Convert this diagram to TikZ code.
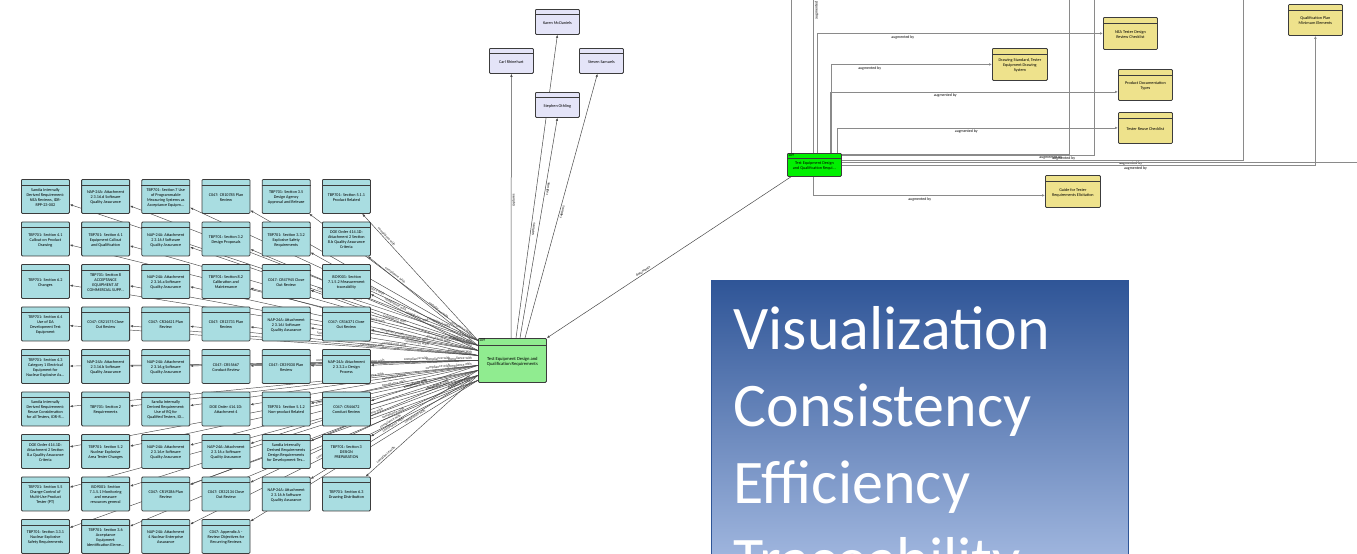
\documentclass[tikz,border=0pt]{standalone}
\usepackage{fontspec}
\setmainfont{Carlito}
\usetikzlibrary{arrows.meta,calc}
\pgfdeclarelayer{bg}
\pgfsetlayers{bg,main}
\definecolor{reqfill}{HTML}{A9DDE1}
\definecolor{boxline}{HTML}{3C3C3C}
\definecolor{lavfill}{HTML}{E4E4F8}
\definecolor{yelfill}{HTML}{EEE28C}
\definecolor{grnfill}{HTML}{90EC90}
\definecolor{brightgrn}{HTML}{00F000}
\definecolor{fanline}{HTML}{4A4A4A}
\definecolor{augline}{HTML}{8A8A8A}
\definecolor{bluetop}{HTML}{2F5597}
\definecolor{bluebot}{RGB}{183,202,237}
\tikzset{
 boxbase/.style={draw=boxline, line width=0.8pt, rounded corners=1pt, align=center, inner sep=0.5pt, anchor=north west, font=\fontsize{4.2}{5}\selectfont},
 req/.style={boxbase, fill=reqfill, minimum width=48pt, minimum height=34pt},
 person/.style={boxbase, fill=lavfill, minimum width=44pt, minimum height=25pt},
 ynode/.style={boxbase, fill=yelfill, minimum width=54pt, minimum height=32pt},
 gnode/.style={boxbase, fill=grnfill, minimum width=68pt, minimum height=44pt, font=\fontsize{4.6}{5.6}\selectfont},
 tbnode/.style={boxbase, fill=brightgrn, minimum width=54pt, minimum height=23pt},
 hdr/.style={draw=boxline, line width=0.5pt},
 htxt/.style={font=\fontsize{4}{4}\selectfont, inner sep=0.8pt, anchor=north west},
 fan/.style={draw=fanline, line width=0.45pt, -{Latex[length=3pt,width=2.4pt]}},
 clab/.style={font=\fontsize{3.6}{4}\selectfont, inner sep=0.6pt, text=black!85},
 aug/.style={draw=augline, line width=0.8pt},
 augarr/.style={aug, -{Latex[length=3pt,width=2.6pt]}},
 alab/.style={font=\fontsize{3.9}{4}\selectfont, inner sep=1.5pt},
 parr/.style={draw=fanline, line width=0.5pt, -{Latex[length=3pt,width=2.4pt]}},
 plab/.style={font=\fontsize{3.6}{4}\selectfont, inner sep=1pt},
 bluebox/.style={draw=bluetop, line width=1pt, top color=bluetop, bottom color=bluebot, anchor=north west, text=white, font=\fontsize{62}{77}\selectfont, text width=373pt, align=left, inner xsep=22pt, inner ysep=26pt}
}
\newcommand{\reqbox}[4]{%
  \node[req] (#1) at (#2,#3) {\mbox{}\\#4};
  \draw[hdr] ([yshift=-6pt]#1.north west) -- ([yshift=-6pt]#1.north east);
}
\begin{document}
\begin{tikzpicture}[x=1pt,y=-1pt]
\useasboundingbox (0,0) rectangle (1357,554);
\clip (0,0) rectangle (1357,554);
% requirement grid
\reqbox{b11}{21}{179}{Sandia Internally\\Derived Requirement:\\NEA Reviews, IDR-\\RPP-23-002}
\reqbox{b21}{81.2}{179}{NAP-24A: Attachment\\2 3.16.d Software\\Quality Assurance}
\reqbox{b31}{141.4}{179}{TBP701: Section 7 Use\\of Programmable\\Measuring Systems as\\Acceptance Equipm...}
\reqbox{b41}{201.6}{179}{C047: CR10785 Plan\\Review}
\reqbox{b51}{261.8}{179}{TBP701: Section 3.5\\Design Agency\\Approval and Release}
\reqbox{b61}{322}{179}{TBP701: Section 5.1.1\\Product Related}
\reqbox{b12}{21}{221.5}{TBP701: Section 4.1\\Callout on Product\\Drawing}
\reqbox{b22}{81.2}{221.5}{TBP701: Section 6.1\\Equipment Callout\\and Qualification}
\reqbox{b32}{141.4}{221.5}{NAP-24A: Attachment\\2 3.16.f Software\\Quality Assurance}
\reqbox{b42}{201.6}{221.5}{TBP701: Section 3.2\\Design Proposals}
\reqbox{b52}{261.8}{221.5}{TBP701: Section 3.3.2\\Explosive Safety\\Requirements}
\reqbox{b62}{322}{221.5}{DOE Order 414.1D:\\Attachment 2 Section\\8.b Quality Assurance\\Criteria}
\reqbox{b13}{21}{264}{TBP701: Section 6.2\\Changes}
\reqbox{b23}{81.2}{264}{TBP701: Section 8\\ACCEPTANCE\\EQUIPMENT AT\\COMMERCIAL SUPP...}
\reqbox{b33}{141.4}{264}{NAP-24A: Attachment\\2 3.16.a Software\\Quality Assurance}
\reqbox{b43}{201.6}{264}{TBP701: Section 8.2\\Calibration and\\Maintenance}
\reqbox{b53}{261.8}{264}{C047: CR47945 Close\\Out Review}
\reqbox{b63}{322}{264}{ISO9001: Section\\7.1.5.2 Measurement\\traceability}
\reqbox{b14}{21}{306.5}{TBP701: Section 6.4\\Use of DA\\Development Test\\Equipment}
\reqbox{b24}{81.2}{306.5}{C047: CR21575 Close\\Out Review}
\reqbox{b34}{141.4}{306.5}{C047: CR34621 Plan\\Review}
\reqbox{b44}{201.6}{306.5}{C047: CR13731 Plan\\Review}
\reqbox{b54}{261.8}{306.5}{NAP-24A: Attachment\\2 3.16.i Software\\Quality Assurance}
\reqbox{b64}{322}{306.5}{C047: CR16371 Close\\Out Review}
\reqbox{b15}{21}{349}{TBP701: Section 4.3\\Category 1 Electrical\\Equipment for\\Nuclear Explosive As...}
\reqbox{b25}{81.2}{349}{NAP-24A: Attachment\\2 3.16.b Software\\Quality Assurance}
\reqbox{b35}{141.4}{349}{NAP-24A: Attachment\\2 3.16.g Software\\Quality Assurance}
\reqbox{b45}{201.6}{349}{C047: CR55667\\Conduct Review}
\reqbox{b55}{261.8}{349}{C047: CR39030 Plan\\Review}
\reqbox{b65}{322}{349}{NAP-24A: Attachment\\2 3.3.2.c Design\\Process}
\reqbox{b16}{21}{391.5}{Sandia Internally\\Derived Requirement:\\Reuse Consideration\\for all Testers, IDR-R...}
\reqbox{b26}{81.2}{391.5}{TBP701: Section 2\\Requirements}
\reqbox{b36}{141.4}{391.5}{Sandia Internally\\Derived Requirement:\\Use of RQ for\\Qualified Testers, ID...}
\reqbox{b46}{201.6}{391.5}{DOE Order 414.1D:\\Attachment 4}
\reqbox{b56}{261.8}{391.5}{TBP701: Section 5.1.2\\Non-product Related}
\reqbox{b66}{322}{391.5}{C047: CR44672\\Conduct Review}
\reqbox{b17}{21}{434}{DOE Order 414.1D:\\Attachment 2 Section\\8.a Quality Assurance\\Criteria}
\reqbox{b27}{81.2}{434}{TBP701: Section 5.2\\Nuclear Explosive\\Area Tester Changes}
\reqbox{b37}{141.4}{434}{NAP-24A: Attachment\\2 3.16.e Software\\Quality Assurance}
\reqbox{b47}{201.6}{434}{NAP-24A: Attachment\\2 3.16.c Software\\Quality Assurance}
\reqbox{b57}{261.8}{434}{Sandia Internally\\Derived Requirements\\Design Requirements\\for Development Tes...}
\reqbox{b67}{322}{434}{TBP701: Section 3\\DESIGN\\PREPARATION}
\reqbox{b18}{21}{476.5}{TBP701: Section 5.5\\Change Control of\\Multi-Use Product\\Tester (PT)}
\reqbox{b28}{81.2}{476.5}{ISO9001: Section\\7.1.5.1 Monitoring\\and measure\\resources general}
\reqbox{b38}{141.4}{476.5}{C047: CR19286 Plan\\Review}
\reqbox{b48}{201.6}{476.5}{C047: CR32134 Close\\Out Review}
\reqbox{b58}{261.8}{476.5}{NAP-24A: Attachment\\2 3.16.h Software\\Quality Assurance}
\reqbox{b68}{322}{476.5}{TBP701: Section 6.3\\Drawing Distribution}
\reqbox{b19}{21}{519}{TBP701: Section 3.3.1\\Nuclear Explosive\\Safety Requirements}
\reqbox{b29}{81.2}{519}{TBP701: Section 3.6\\Acceptance\\Equipment\\Identification Eleme...}
\reqbox{b39}{141.4}{519}{NAP-24A: Attachment\\4 Nuclear Enterprise\\Assurance}
\reqbox{b49}{201.6}{519}{C047: Appendix A -\\Review Objectives for\\Recurring Reviews}
% central requirement node
\node[gnode] (g) at (478,338) {\mbox{}\\Test Equipment Design and\\Qualification Requirements};
\draw[hdr] ([yshift=-7pt]g.north west) -- ([yshift=-7pt]g.north east);
\node[htxt] (glbl) at (g.north west) {109};
% people
\node[person] (karen) at (535,9) {\mbox{}\\Karen McDaniels};
\node[person] (carl) at (489,48) {\mbox{}\\Carl Rhinehart};
\node[person] (steven) at (579,48) {\mbox{}\\Steven Samuels};
\node[person] (steph) at (535,92) {\mbox{}\\Stephen Othling};
\foreach \pn in {karen,carl,steven,steph}{
  \draw[hdr] ([yshift=-5pt]\pn.north west) -- ([yshift=-5pt]\pn.north east);
}
% bright green node
\node[tbnode] (tb) at (787,153) {\mbox{}\\Test Equipment Design\\and Qualification Requi...};
\draw[hdr] ([yshift=-5pt]tb.north west) -- ([yshift=-5pt]tb.north east);
\node[htxt] (tblbl) at (tb.north west) {109};
% yellow nodes
\node[ynode] (nea) at (1103,17) {\mbox{}\\NEA Tester Design\\Review Checklist};
\node[ynode, minimum width=55pt] (dr) at (992,48) {\mbox{}\\Drawing Standard, Tester\\Equipment Drawing\\System};
\node[ynode, minimum height=31pt] (pd) at (1118,69) {\mbox{}\\Product Documentation\\Types};
\node[ynode, minimum height=31pt] (tr) at (1118,112) {\mbox{}\\Tester Reuse Checklist};
\node[ynode, minimum width=55pt] (gd) at (1045,175) {\mbox{}\\Guide for Tester\\Requirements Elicitation};
\node[ynode, minimum height=31pt] (qp) at (1288,4) {\mbox{}\\Qualification Plan\\Minimum Elements};
\foreach \pn in {nea,dr,pd,tr,gd,qp}{
  \draw[hdr] ([yshift=-6pt]\pn.north west) -- ([yshift=-6pt]\pn.north east);
}
% big text panel
\node[bluebox] (vb) at (711,280) {Visualization\\Consistency\\Efficiency\\Traceability};
% off-picture ends
\coordinate (t1) at (791,-3);
\coordinate (t2) at (813,-3);
\coordinate (t3) at (1069,-3);
\coordinate (t4) at (1094,-3);
\coordinate (t5) at (1243,-3);
\coordinate (t6) at (1360,162);
\begin{pgfonlayer}{bg}
\fill[white] (0,0) rectangle (1357,554);
% fan of compliance edges
\foreach \cc/\rr in {1/1,2/1,3/1,4/1,5/1,6/1,1/2,2/2,3/2,4/2,5/2,6/2,1/3,2/3,3/3,4/3,5/3,6/3,1/4,2/4,3/4,4/4,5/4,6/4,1/5,2/5,3/5,4/5,5/5,6/5,1/6,2/6,3/6,4/6,5/6,6/6,1/7,2/7,3/7,4/7,5/7,6/7,1/8,2/8,3/8,4/8,5/8,6/8,1/9,2/9,3/9,4/9}{
  \pgfmathsetmacro\fy{(\rr-0.5)/9}
  \pgfmathsetmacro\cx{45+60.2*(\cc-1)}
  \pgfmathsetmacro\Lx{max(460-22*mod(3*\cc+2*\rr,7),\cx+45)}
  \pgfmathsetmacro\pp{min(0.85,(478-\Lx)/(454-\cx))}
  \draw[fan] ($(g.north west)!\fy!(g.south west)$) -- node[clab,pos=\pp,sloped,above]{compliance with} (b\cc\rr);
}
% people edges
\draw[parr] ([xshift=33pt]g.north west) -- node[plab,sloped,pos=0.52,below]{captures} (carl.south);
\draw[parr] ([xshift=38pt]g.north west) -- node[plab,sloped,pos=0.36,below]{captures} (karen.south);
\draw[parr] ([xshift=42pt]g.north west) -- node[plab,sloped,pos=0.68,below]{captures} (steph.south);
\draw[parr] ([xshift=47pt]g.north west) -- node[plab,sloped,pos=0.48,below]{captures} ([xshift=-4pt]steven.south);
\draw[parr] ([xshift=4pt]tb.south west) -- node[plab,sloped,pos=0.6,above]{documents} (g.north east);
% augmented-by connectors
\draw[aug] ([xshift=4pt]tb.north west) -- (t1);
\draw[aug] ([xshift=26pt]tb.north west) -- node[alab,sloped,pos=0.93,below]{augmented by} (t2);
\draw[augarr] ([xshift=30pt]tb.north west) |- node[alab,pos=0.65,below]{augmented by} (nea.west);
\draw[augarr] ([xshift=44pt]tb.north west) |- node[alab,pos=0.62,below]{augmented by} (dr.west);
\draw[augarr] ([xshift=43pt]tb.north west) |- node[alab,pos=0.70,below]{augmented by} ([yshift=-7pt]pd.west);
\draw[augarr] ([xshift=50pt]tb.north west) |- node[alab,pos=0.73,below]{augmented by} (tr.west);
\draw[augarr] ([xshift=26pt]tb.south west) |- node[alab,pos=0.73,below]{augmented by} ([yshift=-4pt]gd.west);
\draw[aug] ([yshift=-1pt]tb.north east) -| node[alab,pos=0.46,below]{augmented by} (t3);
\draw[aug] ([yshift=-2pt]tb.north east) -| node[alab,pos=0.44,below]{augmented by} (t4);
\draw[aug] ([yshift=-7pt]tb.north east) -| node[alab,pos=0.36,below]{augmented by} (t5);
\draw[aug] ([yshift=-9pt]tb.north east) -- (t6);
\draw[augarr] ([yshift=-12pt]tb.north east) -| node[alab,pos=0.31,below]{augmented by} (qp.south);
\end{pgfonlayer}
\end{tikzpicture}
\end{document}
